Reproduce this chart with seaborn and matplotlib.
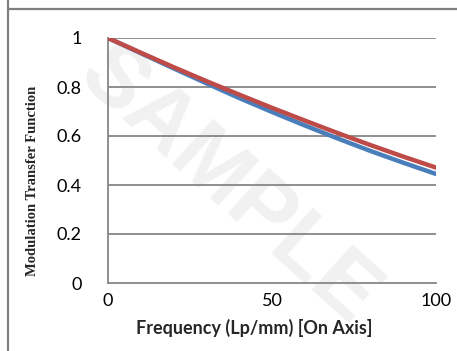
import pandas as pd
import seaborn as sns
import matplotlib.pyplot as plt
from matplotlib.lines import Line2D

# values
freq = [0, 10, 20, 30, 40, 50, 60, 70, 80, 90, 100]
mtf_blue = [1.0, 0.938, 0.876, 0.815, 0.755, 0.698, 0.643, 0.590, 0.539, 0.491, 0.445]
mtf_red = [1.0, 0.940, 0.881, 0.824, 0.769, 0.715, 0.663, 0.612, 0.563, 0.516, 0.471]
series_names = ['blue', 'red']
series_colors = ['#4a7ebb', '#be4b48']
y_ticks = [0, 0.2, 0.4, 0.6, 0.8, 1]
x_ticks = [0, 50, 100]

df = pd.DataFrame({
    'Frequency': freq * 2,
    'MTF': mtf_blue + mtf_red,
    'Series': [series_names[0]] * len(freq) + [series_names[1]] * len(freq),
})

sns.set_style('white')
plt.rcParams['font.family'] = ['Lato', 'DejaVu Sans']

fig = plt.figure(figsize=(4.57, 3.51), dpi=100)

# faint watermark behind everything
fig.text(0.5, 0.47, 'SAMPLE', fontsize=64, color='#f1f1f1', rotation=-42,
         ha='center', va='center', fontweight='bold', zorder=0,
         family='Liberation Sans')

ax = fig.add_axes([108 / 457, 1 - 283 / 351, 328 / 457, 245 / 351], zorder=2)
ax.set_facecolor('none')

for yv in y_ticks[1:]:
    ax.axhline(yv, color='#868686', lw=1.3, zorder=1)

sns.lineplot(data=df, x='Frequency', y='MTF', hue='Series',
             palette=dict(zip(series_names, series_colors)),
             linewidth=3.2, legend=False, ax=ax, zorder=3)

ax.set_xlim(0, 100)
ax.set_ylim(0, 1)
ax.set_xticks(x_ticks)
ax.set_xticklabels([str(v) for v in x_ticks])
ax.set_yticks(y_ticks)
ax.set_yticklabels(['0', '0.2', '0.4', '0.6', '0.8', '1'])
ax.tick_params(axis='both', length=0, labelsize=13, colors='black')
ax.tick_params(axis='y', pad=19)
ax.tick_params(axis='x', pad=7)

for side in ['top', 'right']:
    ax.spines[side].set_visible(False)
for side in ['left', 'bottom']:
    ax.spines[side].set_color('#868686')
    ax.spines[side].set_linewidth(1.3)

ax.set_xlabel('Frequency (Lp/mm) [On Axis]', fontsize=13, fontweight='bold')
ax.xaxis.set_label_coords(0.445, -0.145)
ax.set_ylabel('Modulation Transfer Function', fontsize=10.5, fontweight='bold',
              family='Liberation Serif')
ax.yaxis.set_label_coords(-0.21, 0.416)

# table cell borders and the clipped caption of the cell above
fig.add_artist(Line2D([8 / 457, 8 / 457], [0, 1], color='#7f7f7f', lw=1.6))
fig.add_artist(Line2D([8 / 457, 1], [1 - 9 / 351, 1 - 9 / 351], color='#7f7f7f', lw=1.6))
fig.text(287 / 457, 1 + 9 / 351, 'Frequency (Lp/mm) [Off Axis]', fontsize=13,
         fontweight='bold', ha='center', va='center')

fig.savefig('out.png', dpi=100)
